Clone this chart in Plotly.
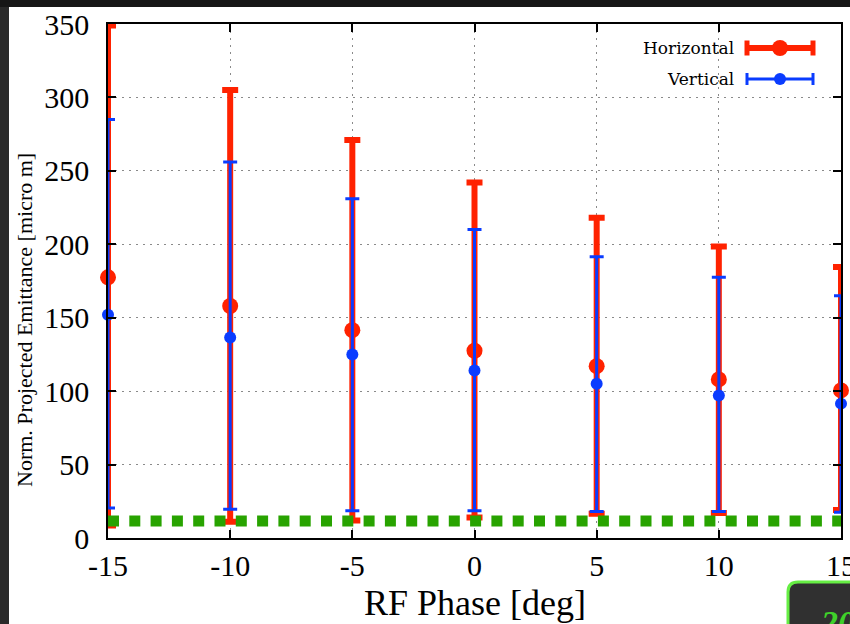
import plotly.graph_objects as go

# RF phase scan: normalised projected emittance with min/max envelopes
phase = [-15, -10, -5, 0, 5, 10, 15]

h_mean = [177.5, 158, 141.5, 127.5, 117, 108, 100.5]
h_upper = [349, 305, 271, 242, 218, 198.5, 184.5]
h_lower = [8.5, 11, 12, 14, 16.5, 17, 19]

v_mean = [152, 136.5, 125, 114, 105, 97, 91.5]
v_upper = [285, 256, 231, 210, 191.5, 177.5, 165]
v_lower = [20.5, 19.5, 18.5, 18.5, 18, 18, 17.5]

floor_level = 11.6

x_ticks = [-15, -10, -5, 0, 5, 10, 15]
x_tick_text = ["-15", "-10", "-5", "0", "5", "10", "15"]
y_ticks = [0, 50, 100, 150, 200, 250, 300, 350]

RED = "#ff2200"
BLUE = "#0a3cff"
GREEN = "#28a300"

W, H = 850, 624
ML, MR, MT, MB = 108, 9, 24, 86
PW, PH = W - ML - MR, H - MT - MB


def px(x):
    return (x - ML) / PW


def py(y):
    return (H - MB - y) / PH


fig = go.Figure()

fig.add_trace(go.Scatter(
    x=phase, y=h_mean, mode="markers", name="Horizontal",
    marker=dict(color=RED, size=16),
    error_y=dict(type="data", symmetric=False,
                 array=[u - m for u, m in zip(h_upper, h_mean)],
                 arrayminus=[m - l for m, l in zip(h_mean, h_lower)],
                 color=RED, thickness=6, width=8),
    cliponaxis=False, showlegend=False,
))
fig.add_trace(go.Scatter(
    x=phase, y=v_mean, mode="markers", name="Vertical",
    marker=dict(color=BLUE, size=12),
    error_y=dict(type="data", symmetric=False,
                 array=[u - m for u, m in zip(v_upper, v_mean)],
                 arrayminus=[m - l for m, l in zip(v_mean, v_lower)],
                 color=BLUE, thickness=3, width=7),
    cliponaxis=False, showlegend=False,
))
fig.add_trace(go.Scatter(
    x=[x_ticks[0], x_ticks[-1]], y=[floor_level, floor_level], mode="lines",
    line=dict(color=GREEN, width=11, dash="11px,10.3px"),
    cliponaxis=False, showlegend=False, hoverinfo="skip",
))

axis_common = dict(
    showline=True, linecolor="black", linewidth=1.5, mirror="ticks",
    ticks="inside", ticklen=8, tickwidth=1.5, tickcolor="black",
    showgrid=True, gridcolor="#8a8a8a", gridwidth=1, griddash="2px,5px",
    zeroline=False, ticklabeloverflow="allow", automargin=False,
    tickfont=dict(family="Liberation Serif", size=30, color="black"),
)

fig.update_xaxes(range=[-15, 15], tickvals=x_ticks, ticktext=x_tick_text,
                 ticklabelstandoff=0, **axis_common)
fig.update_yaxes(range=[0, 350], tickvals=y_ticks, ticklabelstandoff=11, **axis_common)

shapes = [
    # dark frame and white canvas
    dict(type="rect", xref="paper", yref="paper", x0=px(9), x1=px(W + 5),
         y0=py(H + 5), y1=py(7), fillcolor="white", line_width=0, layer="below"),
    dict(type="rect", xref="paper", yref="paper", x0=px(-5), x1=px(W + 5),
         y0=py(7), y1=py(-5), fillcolor="#161616", line_width=0, layer="below"),
]


# legend glyphs
def legend_glyph(yc, color, thick, cap_h, cap_t, dot):
    x0, x1 = 747, 813
    return [
        dict(type="line", xref="paper", yref="paper", x0=px(x0), x1=px(x1),
             y0=py(yc), y1=py(yc), line=dict(color=color, width=thick)),
        dict(type="line", xref="paper", yref="paper", x0=px(x0), x1=px(x0),
             y0=py(yc - cap_h / 2), y1=py(yc + cap_h / 2), line=dict(color=color, width=cap_t)),
        dict(type="line", xref="paper", yref="paper", x0=px(x1), x1=px(x1),
             y0=py(yc - cap_h / 2), y1=py(yc + cap_h / 2), line=dict(color=color, width=cap_t)),
        dict(type="circle", xref="paper", yref="paper", x0=px(780 - dot / 2), x1=px(780 + dot / 2),
             y0=py(yc + dot / 2), y1=py(yc - dot / 2), fillcolor=color, line_width=0),
    ]


shapes += legend_glyph(48, RED, 6, 15, 5, 16)
shapes += legend_glyph(79, BLUE, 3, 12, 3, 12)

# slide number badge in the lower right corner
bx0, bx1, by0, by1, r = 788, 870, 582, 650, 10
badge_path = (
    f"M {px(bx0)} {py(by1)} L {px(bx0)} {py(by0 + r)} "
    f"Q {px(bx0)} {py(by0)} {px(bx0 + r)} {py(by0)} "
    f"L {px(bx1)} {py(by0)} L {px(bx1)} {py(by1)} Z"
)
shapes.append(dict(type="path", xref="paper", yref="paper", path=badge_path,
                   fillcolor="#303030", line=dict(color="#66ee44", width=3)))

annotations = [
    dict(text="Horizontal", xref="paper", yref="paper", x=px(736), y=py(48),
         xanchor="right", yanchor="middle", showarrow=False,
         font=dict(family="DejaVu Serif", size=17, color="black")),
    dict(text="Vertical", xref="paper", yref="paper", x=px(736), y=py(79),
         xanchor="right", yanchor="middle", showarrow=False,
         font=dict(family="DejaVu Serif", size=17, color="black")),
    dict(text="RF Phase [deg]", xref="paper", yref="paper", x=0.5, y=py(603),
         xanchor="center", yanchor="middle", showarrow=False,
         font=dict(family="Liberation Serif", size=36, color="black")),
    dict(text="Norm. Projected Emittance [micro m]", xref="paper", yref="paper",
         x=px(24), y=py(320), xanchor="center", yanchor="middle", textangle=-90,
         showarrow=False,
         font=dict(family="Liberation Serif", size=22, color="black")),
    dict(text="<b><i>20</i></b>", xref="paper", yref="paper", x=px(818), y=py(602),
         xanchor="left", yanchor="top", showarrow=False,
         font=dict(family="Liberation Serif", size=34, color="#3fd12a")),
]

fig.update_layout(
    width=W, height=H,
    margin=dict(l=ML, r=MR, t=MT, b=MB, pad=0, autoexpand=False),
    paper_bgcolor="#2a2a2a", plot_bgcolor="white",
    shapes=shapes, annotations=annotations,
    showlegend=False,
)

fig.write_html("out.html")
